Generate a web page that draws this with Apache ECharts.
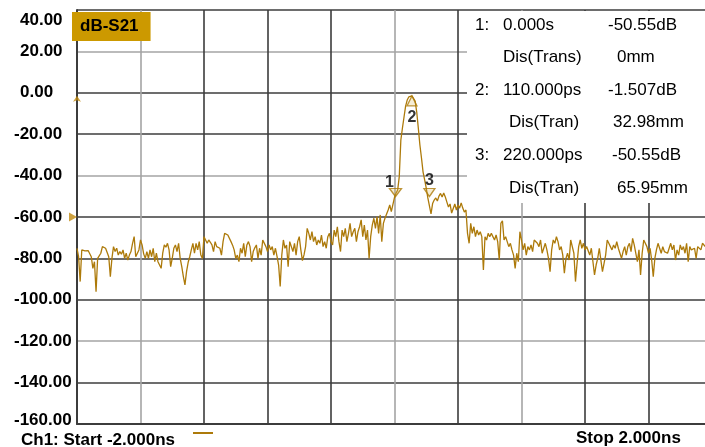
<!DOCTYPE html>
<html>
<head>
<meta charset="utf-8">
<title>dB-S21 time domain</title>
<script src="https://cdn.jsdelivr.net/npm/echarts@6/dist/echarts.min.js"></script>
<style>
  html, body { margin: 0; padding: 0; background: #ffffff; }
  #chart { width: 705px; height: 447px; }
</style>
</head>
<body>
<div id="chart"></div>
<script>
// Time axis (ns) and trace step
const tStart = -2.0;
const tStop = 2.0;
const tStep = 0.01;

// S21 magnitude (dB), in consecutive runs of 10 ps points
const noiseLeftStart = -2.00;
const noiseLeft = [
  -75.1, -79.2, -91.2, -75.9, -75.9, -76.4, -76.7, -76.2, -76.7, -79.2,
  -84.8, -81.6, -96.1, -80.0, -79.2, -77.5, -74.3, -74.3, -75.1, -74.8,
  -79.2, -88.8, -80.0, -74.3, -76.7, -75.1, -78.4, -76.7, -78.0, -75.9,
  -80.0, -77.5, -80.8, -78.4, -76.7, -72.7, -69.5, -79.2, -80.0, -75.9,
  -71.1, -73.5, -77.8, -80.0, -76.7, -80.0, -75.9, -79.2, -75.1, -81.6,
  -77.5, -81.6, -80.8, -84.8, -77.5, -73.5, -74.6, -72.7, -75.9, -84.0,
  -80.0, -75.1, -73.5, -76.7, -72.7, -80.0, -84.0, -88.8, -92.8, -86.4,
  -82.0, -79.2, -75.9, -72.7, -77.5, -72.7, -75.9, -71.9, -78.4, -80.0,
  -69.5, -70.3, -72.7, -71.1, -72.2, -73.5, -76.7, -71.9, -74.3, -73.5,
  -75.1, -78.4, -71.9, -67.9, -67.1, -68.7, -69.5, -71.9, -73.6, -75.9,
  -80.0, -78.4, -81.6, -75.1, -77.5, -72.7, -79.2, -73.5, -71.9, -74.3,
  -81.6, -76.7, -74.9, -73.5, -80.0, -75.1, -78.4, -71.1, -70.3, -74.3,
  -76.7, -73.5, -75.9, -74.3, -78.4, -75.1, -79.0, -83.2, -93.6, -78.4,
  -71.1, -75.1, -73.5, -84.0, -71.9, -71.1, -76.7, -72.7, -78.4, -71.9,
  -69.5
];

const noiseRiseStart = -0.59;
const noiseRise = [
  -75.9, -81.1, -78.3, -74.3, -65.5, -67.9, -71.1, -67.1, -71.9, -69.5,
  -73.5, -71.1, -72.7, -68.7, -74.3, -71.9, -75.1, -69.5, -67.9, -71.9,
  -73.5, -66.3, -69.5, -64.7, -71.9, -76.7, -66.3, -69.5, -65.5, -71.9,
  -67.9, -63.1, -69.5, -67.1, -65.5, -71.9, -67.1, -64.7, -61.4, -69.5,
  -63.9, -71.1, -66.3, -80.0, -69.5, -63.9, -60.6, -65.5, -59.8, -67.9,
  -59.0, -71.9, -63.1, -60.6, -59.8, -56.6, -54.2, -57.4, -58.2
];

const pulseStart = 0.00;
const pulse = [
  -50.55, -48.4, -47.0, -40.5, -22.8, -17.0, -11.7, -6.4, -3.5, -2.0,
  -1.6, -1.507, -2.0, -4.0, -9.3, -17.0, -25.2, -31.5, -38.3, -42.1,
  -46.0, -50.8, -50.55, -58.5, -53.5, -51.8, -50.8, -52.3, -49.9, -48.6,
  -50.3, -48.4, -50.3, -52.8, -55.2, -53.7, -58.1, -59.0, -53.7, -56.6,
  -54.2, -55.7, -53.2, -55.7, -57.6, -56.6
];

const noiseRightStart = 0.46;
const noiseRight = [
  -67.9, -72.7, -63.1, -67.9, -64.7, -69.5, -66.3, -68.7, -67.1, -69.5,
  -85.6, -69.5, -71.1, -67.9, -69.5, -67.9, -67.1, -71.1, -68.7, -71.9,
  -80.8, -63.1, -61.8, -71.1, -69.5, -71.9, -74.3, -72.7, -75.9, -78.4,
  -84.8, -77.5, -81.6, -67.1, -71.1, -75.9, -72.7, -78.4, -74.3, -75.9,
  -73.5, -76.7, -71.1, -70.3, -72.7, -74.3, -71.1, -77.5, -75.1, -72.7,
  -75.9, -80.0, -86.4, -75.9, -71.1, -72.7, -69.5, -71.9, -75.9, -74.3,
  -78.4, -87.2, -80.0, -77.5, -80.8, -71.1, -74.3, -77.5, -91.2, -82.4,
  -74.3, -71.1, -75.1, -72.7, -75.9, -74.3, -73.5, -78.4, -75.1, -81.6,
  -88.0, -83.2, -80.0, -75.1, -80.8, -86.4, -82.4, -78.4, -71.1, -72.7,
  -74.3, -75.9, -73.5, -75.1, -71.9, -75.1, -77.5, -80.0, -76.7, -74.3,
  -78.4, -74.3, -72.7, -76.7, -70.3, -73.5, -74.3, -81.6, -75.9, -88.0,
  -77.5, -71.1, -72.7, -74.3, -77.5, -75.1, -80.8, -88.8, -80.0, -75.9,
  -72.7, -75.1, -77.5, -74.3, -76.7, -75.9, -77.5, -75.1, -72.7, -75.9,
  -73.5, -80.8, -75.9, -78.4, -73.5, -75.9, -74.3, -77.5, -72.7, -81.6,
  -74.3, -75.9, -76.7, -75.1, -80.0, -74.3, -73.5, -75.9, -72.7, -71.9,
  -74.5, -77.0, -73.8, -76.2, -75.0
];

// Markers
const markerNames = ['1', '2', '3'];
const markerT = [0.0, 0.11, 0.22];          // ns
const markerTimeText = ['0.000s', '110.000ps', '220.000ps'];
const markerDb = [-50.55, -1.507, -50.55];
const markerDistName = ['Dis(Trans)', 'Dis(Tran)', 'Dis(Tran)'];
const markerDist = ['0mm', '32.98mm', '65.95mm'];

// Axis scale
const yMin = -160, yMax = 40, yStep = 20;
const xStep = 0.4;

const FONT = '"Liberation Sans", Arial, Helvetica, sans-serif';
const TRACE = '#ad7a0a';
const DARK = '#3c3c3c';
const LIGHT = '#a4a4a4';

function run(start, arr) {
  return arr.map((v, k) => [+(start + k * tStep).toFixed(3), v]);
}
const trace = [].concat(
  run(noiseLeftStart, noiseLeft),
  run(noiseRiseStart, noiseRise),
  run(pulseStart, pulse),
  run(noiseRightStart, noiseRight)
);

// marker glyphs: 1 and 3 hang above the trace, 2 sits under the peak
const markerGlyph = [
  { rot: 180, size: [12, 8], off: [1, -5], lab: [-6, -10] },
  { rot: 0, size: [10, 10], off: [0, 5], lab: [0, 16.5] },
  { rot: 180, size: [11, 8], off: [0, -5], lab: [0, -11.5] }
];
const markerData = markerNames.map((n, i) => ({
  name: n,
  value: [markerT[i], markerDb[i]],
  symbolRotate: markerGlyph[i].rot,
  symbolSize: markerGlyph[i].size,
  symbolOffset: markerGlyph[i].off,
  label: { offset: markerGlyph[i].lab }
}));

// marker readout table
const rowY = [25, 57.6, 90.2, 122.8, 155.4, 188];
const tableText = [];
function tText(str, x, y) {
  tableText.push({
    type: 'text', x: x, y: y, z: 21,
    style: { text: str, font: '17px ' + FONT, fill: '#000',
             verticalAlign: 'middle', textVerticalAlign: 'middle' }
  });
}
const valX = [608, 608, 612];
const distX = [617, 613, 617];
const nameX = [503, 509, 509];
for (let i = 0; i < 3; i++) {
  tText(markerNames[i] + ':', 475, rowY[2 * i]);
  tText(markerTimeText[i], 503, rowY[2 * i]);
  tText(markerDb[i] + 'dB', valX[i], rowY[2 * i]);
  tText(markerDistName[i], nameX[i], rowY[2 * i + 1]);
  tText(markerDist[i], distX[i], rowY[2 * i + 1]);
}

const labStyle = { fontSize: 17, fontWeight: 'bold', color: '#000', fontFamily: FONT };

const chart = echarts.init(document.getElementById('chart'), null, { renderer: 'canvas' });
chart.setOption({
  animation: false,
  backgroundColor: '#ffffff',
  title: {
    text: 'dB-S21', left: 72, top: 12,
    backgroundColor: '#CC9900',
    padding: [5, 12, 5, 8],
    textStyle: { fontSize: 17, fontWeight: 'bold', color: '#000', fontFamily: FONT, lineHeight: 19 }
  },
  grid: { left: 77, top: 10, width: 635, height: 414, containLabel: false, outerBoundsMode: 'none' },
  xAxis: {
    type: 'value', min: tStart, max: tStop, interval: xStep,
    axisLine: { show: true, onZero: false, lineStyle: { color: DARK, width: 2 } },
    axisTick: { show: false },
    axisLabel: { show: false },
    splitLine: {
      show: true,
      lineStyle: { width: 1.6, color: [DARK, LIGHT, DARK, DARK, DARK, LIGHT, DARK, LIGHT, DARK, DARK, DARK] }
    }
  },
  yAxis: {
    type: 'value', min: yMin, max: yMax, interval: yStep,
    axisLine: { show: true, onZero: false, lineStyle: { color: DARK, width: 2 } },
    axisTick: { show: false },
    axisLabel: {
      show: true, margin: 63, align: 'left',
      fontSize: 17, fontWeight: 'bold', color: '#000', fontFamily: FONT,
      formatter: function (v) {
        const s = v.toFixed(2);
        let k = v >= 0 ? 'p' : 'n';
        if (v === yMax) k = 'pt';
        if (v === yMin) k = 'nb';
        return '{' + k + '|' + s + '}';
      },
      rich: {
        p: Object.assign({ padding: [0, 0, 0, 6] }, labStyle),
        pt: Object.assign({ padding: [20, 0, 0, 6] }, labStyle),
        n: Object.assign({}, labStyle),
        nb: Object.assign({ padding: [0, 0, 8, 0] }, labStyle)
      }
    },
    splitLine: {
      show: true,
      lineStyle: { width: 1.6, color: [DARK, DARK, LIGHT, DARK, DARK, DARK, LIGHT, DARK, DARK, LIGHT, DARK] }
    }
  },
  series: [
    {
      name: 'S21', type: 'line', data: trace,
      showSymbol: false, symbol: 'none', z: 3,
      lineStyle: { color: TRACE, width: 1.3 },
      silent: true
    },
    {
      name: 'Markers', type: 'scatter', data: markerData, z: 5,
      symbol: 'triangle', silent: true,
      itemStyle: { color: 'rgba(220,180,80,0.3)', borderColor: TRACE, borderWidth: 1.3 },
      label: {
        show: true, position: 'inside', formatter: '{b}',
        fontSize: 16, fontWeight: 'bold', color: '#000', fontFamily: FONT
      }
    },
    {
      name: 'Ref', type: 'scatter', clip: false, silent: true, z: 6,
      data: [
        { value: [tStart, -60], symbol: 'triangle', symbolRotate: -90, symbolSize: [9, 8], symbolOffset: [-4, 0] },
        { value: [tStart, 0], symbol: 'arrow', symbolSize: [6, 6], symbolOffset: [0, 3] }
      ],
      itemStyle: { color: '#c08a10' }
    }
  ],
  graphic: {
    elements: [
      { type: 'rect', z: 20, shape: { x: 467, y: 11, width: 250, height: 192 },
        style: { fill: '#ffffff' } }
    ].concat(tableText, [
      { type: 'text', x: 21, y: 440, z: 21,
        style: { text: 'Ch1: Start ' + tStart.toFixed(3) + 'ns', font: 'bold 17px ' + FONT, fill: '#000',
                 verticalAlign: 'middle', textVerticalAlign: 'middle' } },
      { type: 'line', z: 21, shape: { x1: 193, y1: 433, x2: 213, y2: 433 },
        style: { stroke: TRACE, lineWidth: 2 } },
      { type: 'text', x: 576, y: 438, z: 21,
        style: { text: 'Stop ' + tStop.toFixed(3) + 'ns', font: 'bold 17px ' + FONT, fill: '#000',
                 verticalAlign: 'middle', textVerticalAlign: 'middle' } }
    ])
  }
});
</script>
</body>
</html>
